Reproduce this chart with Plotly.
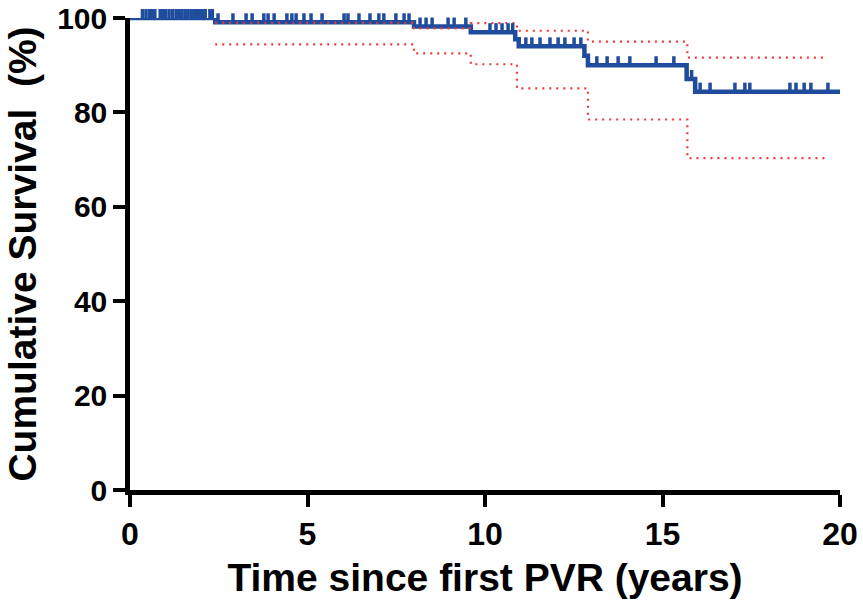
import plotly.graph_objects as go

# ---- Kaplan-Meier estimate (step function) ----
event_times = [0, 2.4, 8.0, 9.6, 10.85, 10.95, 12.8, 12.9, 15.68, 15.92, 20.0]
survival    = [100, 99.1, 98.2, 97.0, 95.5, 94.0, 92.0, 90.0, 87.1, 84.4, 84.4]

# ---- 95% confidence band ----
ci_times = [2.4, 8.0, 9.6, 10.9, 12.9, 15.7, 19.65]
ci_upper = [99.0, 97.8, 98.9, 97.3, 95.0, 91.6, 91.6]
ci_lower = [94.4, 92.5, 90.2, 85.1, 78.5, 70.3, 70.3]

# ---- censored observations (years) ----
censor_times = [
    0.35, 0.45, 0.55, 0.62, 0.70, 0.85, 0.92, 1.00, 1.10, 1.20, 1.30, 1.38,
    1.46, 1.55, 1.63, 1.72, 1.80, 1.88, 1.96, 2.05, 2.12, 2.25, 2.32,
    2.48, 2.90, 3.27, 3.44, 3.77, 3.89, 4.06, 4.42, 4.56, 4.68, 4.90, 5.10,
    5.41, 6.03, 6.14, 6.45, 6.76, 7.01, 7.15, 7.49, 7.72, 7.86,
    8.17, 8.34, 8.51, 8.96, 9.13, 9.46,
    10.14, 10.31, 10.48, 10.65, 10.78,
    11.15, 11.32, 11.55, 11.83, 12.06, 12.25, 12.51, 12.70,
    13.15, 13.44, 13.75, 14.08, 14.82, 15.32,
    15.82,
    16.06, 16.34, 17.04, 17.32, 17.46, 18.59, 18.76, 18.99, 19.18, 19.66,
]

x_ticks = [0, 5, 10, 15, 20]
y_ticks = [0, 20, 40, 60, 80, 100]

BLUE = "#1f4c9c"
RED = "#f0393a"
FONT = "Liberation Sans, Arial, Helvetica, sans-serif"
TICK_MARK = 1.9  # height of censor tick, in % units


def level_at(t):
    s = survival[0]
    for et, sv in zip(event_times, survival):
        if et <= t:
            s = sv
    return s


censor_levels = [level_at(t) for t in censor_times]

W, H = 863, 605
M_L, M_R, M_T, M_B = 130, 23, 8, 115
plot_h = H - M_T - M_B            # full plotting height (for the censor layer)
main_h = plot_h - 10              # height of the 0-100 axis
dom_top = main_h / plot_h
y2_top = 100 / dom_top            # same scale as main y axis, extended upward

fig = go.Figure()

fig.add_trace(go.Scatter(
    x=event_times, y=survival, mode="lines", line_shape="hv",
    line=dict(color=BLUE, width=4.5), showlegend=False))

for band in (ci_upper, ci_lower):
    fig.add_trace(go.Scatter(
        x=ci_times, y=band, mode="lines", line_shape="hv",
        line=dict(color=RED, width=2.2, dash="2px,5px"),
        hoverinfo="skip", showlegend=False))

# censor marks: vertical ticks standing on the curve (drawn on a taller layer)
fig.add_trace(go.Scatter(
    x=censor_times, y=censor_levels, yaxis="y2", mode="markers",
    marker=dict(size=1, color="rgba(0,0,0,0)"),
    error_y=dict(type="data", symmetric=False,
                 array=[TICK_MARK] * len(censor_times),
                 arrayminus=[0] * len(censor_times),
                 color=BLUE, thickness=3.5, width=0),
    showlegend=False))

axis_common = dict(
    showline=True, linecolor="black", linewidth=4.5,
    ticks="outside", ticklen=12, tickwidth=3.5, tickcolor="black",
    showgrid=False, zeroline=False, automargin=False,
    ticklabeloverflow="allow",
)

fig.update_layout(
    width=W, height=H,
    margin=dict(l=M_L, r=M_R, t=M_T, b=M_B),
    plot_bgcolor="rgba(0,0,0,0)", paper_bgcolor="white",
    xaxis=dict(
        range=[0, 20], tickvals=x_ticks, ticktext=[str(v) for v in x_ticks],
        anchor="y",
        tickfont=dict(family=FONT, size=32, color="black", weight="bold"),
        title=dict(text="Time since first PVR (years)",
                   font=dict(family=FONT, size=39, color="black", weight="bold"),
                   standoff=14),
        **axis_common),
    yaxis=dict(
        range=[0, 100], domain=[0, dom_top],
        tickvals=y_ticks, ticktext=[str(v) for v in y_ticks],
        tickfont=dict(family=FONT, size=30, color="black", weight="bold"),
        title=dict(text="Cumulative Survival\u00a0 (%)",
                   font=dict(family=FONT, size=39, color="black", weight="bold"),
                   standoff=10),
        **axis_common),
    yaxis2=dict(range=[0, y2_top], domain=[0, 1], anchor="x",
                visible=False, showgrid=False, zeroline=False),
)

# remove the browser's default 8px page margin so the figure fills the window
fig.write_html("out.html",
               config={"displayModeBar": False},
               post_script="document.body.style.margin='0';")
